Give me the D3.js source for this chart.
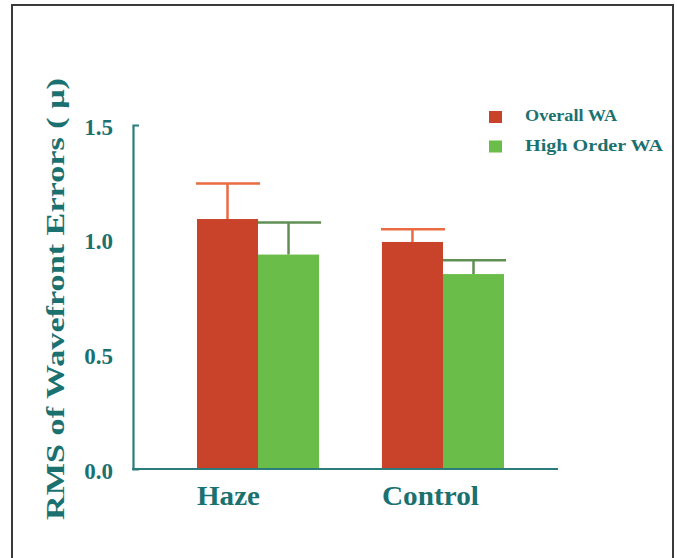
<!DOCTYPE html>
<html>
<head>
<meta charset="utf-8">
<script src="https://cdn.jsdelivr.net/npm/d3@7"></script>
<style>
  html, body { margin: 0; padding: 0; background: #fff; }
  svg { display: block; }
</style>
</head>
<body>
<svg id="chart" width="677" height="558"></svg>
<script>
// Groups and series
const categories = ["Haze", "Control"];
const seriesNames = ["Overall WA", "High Order WA"];
// Mean RMS wavefront error (µm) per group, one array per series
const overallWA = [1.09, 0.99];
const highOrderWA = [0.935, 0.85];
// Standard deviations (upper error bars)
const overallSD = [0.155, 0.055];
const highOrderSD = [0.14, 0.06];
const yTicks = [0.0, 0.5, 1.0, 1.5];

const values = [overallWA, highOrderWA];
const errors = [overallSD, highOrderSD];
const fills = ["#c8432a", "#6abd48"];
const errColors = ["#ea6a42", "#5f8f55"];
const teal = "#1b716f";
const axisColor = "#2b7d7c";
const font = "'Liberation Serif', 'DejaVu Serif', serif";

const svg = d3.select("#chart");

// Frame
svg.append("rect")
  .attr("x", 12).attr("y", 5)
  .attr("width", 661).attr("height", 570)
  .attr("fill", "none").attr("stroke", "#3a3a3a").attr("stroke-width", 2);

const y = d3.scaleLinear().domain([0, 1.5]).range([469, 125]);

const x0 = d3.scaleBand()
  .domain(categories)
  .range([123, 578])
  .paddingInner(0.34)
  .paddingOuter(0.4);

const x1 = d3.scaleBand()
  .domain(seriesNames)
  .range([0, x0.bandwidth()]);

// Bars with error bars
const rows = [];
categories.forEach((c, i) => {
  seriesNames.forEach((s, j) => {
    rows.push({ cat: c, series: s, si: j, v: values[j][i], e: errors[j][i] });
  });
});

const g = svg.append("g");

// error bars drawn first so bars sit on top of the stems
const eb = g.selectAll("g.err").data(rows).enter().append("g").attr("class", "err");
eb.append("line")
  .attr("x1", d => x0(d.cat) + x1(d.series) + x1.bandwidth() / 2)
  .attr("x2", d => x0(d.cat) + x1(d.series) + x1.bandwidth() / 2)
  .attr("y1", d => y(d.v))
  .attr("y2", d => y(d.v + d.e))
  .attr("stroke", d => errColors[d.si]).attr("stroke-width", 2.5);
eb.append("line")
  .attr("x1", d => x0(d.cat) + x1(d.series) - 1)
  .attr("x2", d => x0(d.cat) + x1(d.series) + x1.bandwidth() + 2)
  .attr("y1", d => y(d.v + d.e))
  .attr("y2", d => y(d.v + d.e))
  .attr("stroke", d => errColors[d.si]).attr("stroke-width", 2.5);

g.selectAll("rect.bar").data(rows).enter().append("rect")
  .attr("class", "bar")
  .attr("x", d => x0(d.cat) + x1(d.series))
  .attr("width", x1.bandwidth())
  .attr("y", d => y(d.v))
  .attr("height", d => y(0) - y(d.v))
  .attr("fill", d => fills[d.si]);

// Y axis
const yAxis = d3.axisLeft(y)
  .tickValues(yTicks)
  .tickFormat(d3.format(".1f"))
  .tickSize(0)
  .tickSizeOuter(-6)
  .tickPadding(20);
const ya = svg.append("g").attr("transform", "translate(133,0)").call(yAxis);
ya.select(".domain").attr("stroke", axisColor).attr("stroke-width", 2.2);
ya.selectAll("text")
  .attr("fill", teal)
  .attr("font-family", font)
  .attr("font-weight", "bold")
  .attr("font-size", 23)
  .attr("dy", "0.4em");

// X axis baseline
svg.append("line")
  .attr("x1", 132).attr("x2", 558)
  .attr("y1", y(0)).attr("y2", y(0))
  .attr("stroke", axisColor).attr("stroke-width", 2.2);

// Category labels
svg.selectAll("text.cat").data(categories).enter().append("text")
  .attr("class", "cat")
  .attr("x", d => x0(d))
  .attr("y", 505)
  .attr("fill", teal)
  .attr("font-family", font)
  .attr("font-weight", "bold")
  .attr("font-size", 27)
  .attr("textLength", (d, i) => [63, 97][i])
  .attr("lengthAdjust", "spacingAndGlyphs")
  .text(d => d);

// Y axis title
svg.append("text")
  .attr("transform", "translate(64,299) rotate(-90)")
  .attr("text-anchor", "middle")
  .attr("fill", teal)
  .attr("font-family", font)
  .attr("font-weight", "bold")
  .attr("font-size", 25)
  .attr("textLength", 442)
  .attr("lengthAdjust", "spacingAndGlyphs")
  .text("RMS of Wavefront Errors ( μ)");

// Legend
const legend = svg.append("g");
const lg = legend.selectAll("g").data(seriesNames).enter().append("g")
  .attr("transform", (d, i) => `translate(489,${111 + i * 29.5})`);
lg.append("rect")
  .attr("width", 13).attr("height", 12)
  .attr("fill", (d, i) => fills[i]);
lg.append("text")
  .attr("x", 36).attr("y", 10)
  .attr("fill", teal)
  .attr("font-family", font)
  .attr("font-weight", "bold")
  .attr("font-size", 16)
  .attr("textLength", (d, i) => [92, 138][i])
  .attr("lengthAdjust", "spacingAndGlyphs")
  .text(d => d);
</script>
</body>
</html>
